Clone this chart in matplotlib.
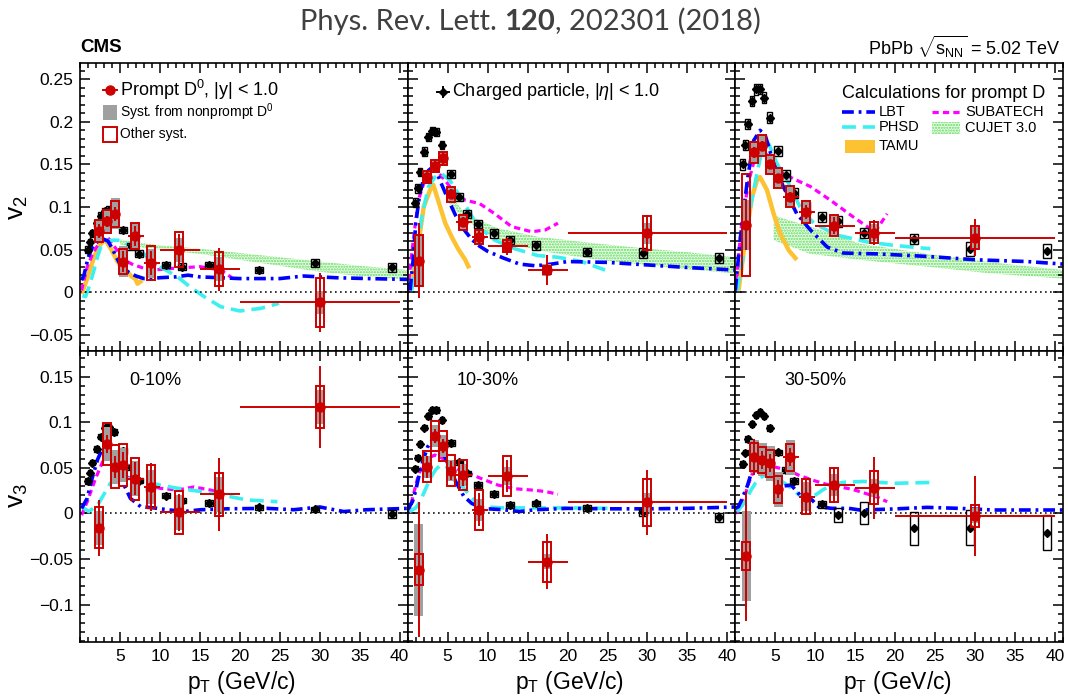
"""Prompt D0 and charged-particle v2 / v3 versus pT in PbPb, three centrality classes."""

import matplotlib

matplotlib.use("Agg")
import matplotlib.pyplot as plt
import numpy as np
from matplotlib.lines import Line2D
from matplotlib.patches import Rectangle
from matplotlib.ticker import FixedLocator, MultipleLocator

W, H = 1068, 699

# ---------------- prompt D0 ----------------
d0_pt = [1.4, 2.4, 3.4, 4.4, 5.4, 6.9, 8.9, 12.4, 17.4, 30.0]
d0_lo = [1, 2, 3, 4, 5, 6, 8, 10, 15, 20]
d0_hi = [2, 3, 4, 5, 6, 8, 10, 15, 20, 40]
nan = np.nan

d0_v2_010 = [nan, 0.072, 0.083, 0.092, 0.036, 0.066, 0.034, 0.050, 0.027, -0.012]
d0_v2_010_stat = [nan, 0.008, 0.007, 0.008, 0.012, 0.012, 0.014, 0.018, 0.025, 0.035]
d0_v2_010_sys = [nan, 0.013, 0.014, 0.015, 0.015, 0.015, 0.020, 0.021, 0.020, 0.029]
d0_v2_010_np = [nan, 0.014, 0.014, 0.018, 0.018, 0.015, 0.017, 0.014, 0.014, 0.014]

d0_v2_1030 = [0.037, 0.135, 0.148, 0.157, 0.115, 0.082, 0.065, 0.054, 0.026, 0.069]
d0_v2_1030_stat = [0.044, 0.008, 0.006, 0.006, 0.006, 0.006, 0.008, 0.010, 0.018, 0.022]
d0_v2_1030_sys = [0.030, 0.007, 0.007, 0.008, 0.009, 0.009, 0.008, 0.007, 0.005, 0.020]
d0_v2_1030_np = [0.031, 0.008, 0.008, 0.008, 0.009, 0.009, 0.009, 0.008, 0.007, 0.012]

d0_v2_3050 = [0.079, 0.164, 0.172, 0.150, 0.134, 0.112, 0.094, 0.078, 0.070, 0.064]
d0_v2_3050_stat = [0.030, 0.006, 0.005, 0.005, 0.005, 0.006, 0.008, 0.010, 0.015, 0.022]
d0_v2_3050_sys = [0.060, 0.012, 0.012, 0.0115, 0.0115, 0.0125, 0.0125, 0.0125, 0.0125, 0.0135]
d0_v2_3050_np = [0.029, 0.012, 0.012, 0.012, 0.012, 0.012, 0.012, 0.012, 0.010, 0.012]

d0_v3_010 = [nan, -0.016, 0.076, 0.051, 0.053, 0.038, 0.029, 0.001, 0.021, 0.1165]
d0_v3_010_stat = [nan, 0.031, 0.010, 0.012, 0.014, 0.018, 0.026, 0.020, 0.040, 0.045]
d0_v3_010_sys = [nan, 0.0225, 0.023, 0.0235, 0.0235, 0.023, 0.0235, 0.0235, 0.0235, 0.023]
d0_v3_010_np = [nan, 0.019, 0.019, 0.019, 0.019, 0.019, 0.019, 0.019, 0.019, 0.019]

d0_v3_1030 = [-0.062, 0.051, 0.085, 0.074, 0.047, 0.042, 0.004, 0.041, -0.053, 0.012]
d0_v3_1030_stat = [0.074, 0.012, 0.008, 0.008, 0.010, 0.012, 0.018, 0.018, 0.030, 0.036]
d0_v3_1030_sys = [0.017, 0.017, 0.0165, 0.0165, 0.0165, 0.016, 0.022, 0.0215, 0.022, 0.0255]
d0_v3_1030_np = [0.050, 0.012, 0.012, 0.012, 0.012, 0.012, 0.012, 0.010, 0.008, 0.010]

d0_v3_3050 = [-0.0466, 0.062, 0.0586, 0.055, 0.0264, 0.0615, 0.0183, 0.031, 0.028, -0.0026]
d0_v3_3050_stat = [0.071, 0.020, 0.010, 0.010, 0.010, 0.010, 0.018, 0.020, 0.034, 0.044]
d0_v3_3050_sys = [0.015, 0.015, 0.0145, 0.015, 0.015, 0.015, 0.019, 0.019, 0.018, 0.012]
d0_v3_3050_np = [0.049, 0.018, 0.018, 0.019, 0.019, 0.019, 0.016, 0.012, 0.010, 0.008]

# ---------------- charged particles ----------------
ch_pt = [0.95, 1.25, 1.55, 2.1, 2.6, 3.1, 3.6, 4.3, 5.4, 6.4, 7.4, 8.8, 10.8, 12.8, 16.1, 22.4, 29.4, 39.0]

ch_v2_010 = [0.050, 0.059, 0.069, 0.081, 0.090, 0.095, 0.097, 0.094, 0.073, 0.054, 0.045, 0.039,
             0.032, 0.030, 0.032, 0.026, 0.034, 0.029]
ch_v2_1030 = [0.105, 0.122, 0.141, 0.165, 0.182, 0.189, 0.188, 0.173, 0.139, 0.112, 0.092, 0.080,
              0.069, 0.061, 0.055, 0.047, 0.046, 0.040]
ch_v2_3050 = [0.150, 0.1725, 0.197, 0.2245, 0.238, 0.2385, 0.2285, 0.205, 0.1655, 0.137, 0.116, 0.100,
              0.088, 0.083, 0.0696, 0.062, 0.051, 0.0485]
ch_v3_010 = [0.0355, 0.0447, 0.0557, 0.0707, 0.084, 0.094, 0.095, 0.089, 0.0685, 0.0505, 0.036, 0.027,
             0.0194, 0.0139, 0.0114, 0.0066, 0.0044, -0.0007]
ch_v3_1030 = [0.049, 0.061, 0.076, 0.094, 0.107, 0.1135, 0.1135, 0.1025, 0.077, 0.056, 0.044, 0.031,
              0.021, 0.009, 0.011, 0.006, 0.001, -0.0044]
ch_v3_3050 = [0.054, 0.0666, 0.0813, 0.098, 0.108, 0.111, 0.107, 0.0934, 0.067, 0.0476, 0.0355, 0.0256,
              0.0099, -0.0018, 0.0, -0.0165, -0.0158, -0.021]

ch_v2_010_sys = [0.004, 0.004, 0.004, 0.004, 0.004, 0.004, 0.004, 0.004, 0.004, 0.004, 0.004, 0.004,
                 0.004, 0.004, 0.004, 0.004, 0.005, 0.005]
ch_v2_1030_sys = [0.005, 0.005, 0.005, 0.005, 0.005, 0.005, 0.005, 0.005, 0.005, 0.005, 0.005, 0.005,
                  0.005, 0.005, 0.005, 0.005, 0.006, 0.006]
ch_v2_3050_sys = [0.006, 0.006, 0.006, 0.006, 0.006, 0.006, 0.006, 0.006, 0.006, 0.006, 0.006, 0.006,
                  0.006, 0.006, 0.006, 0.006, 0.008, 0.008]
ch_v3_010_sys = [0.003, 0.003, 0.003, 0.003, 0.003, 0.003, 0.003, 0.003, 0.003, 0.003, 0.003, 0.003,
                 0.003, 0.003, 0.003, 0.003, 0.003, 0.004]
ch_v3_1030_sys = [0.003, 0.003, 0.003, 0.003, 0.003, 0.003, 0.003, 0.003, 0.003, 0.003, 0.003, 0.003,
                  0.003, 0.003, 0.003, 0.003, 0.004, 0.005]
ch_v3_3050_sys = [0.003, 0.003, 0.003, 0.003, 0.003, 0.003, 0.003, 0.003, 0.003, 0.003, 0.003, 0.004,
                  0.004, 0.008, 0.012, 0.018, 0.019, 0.019]

# ---------------- model calculations ----------------
lbt_v2_010_pt = [0.2, 0.5, 1.0, 1.5, 2.0, 2.5, 3.0, 3.5, 4.0, 4.5, 5.0, 6.0, 7.0, 8.0, 9.0, 10.0, 12.0,
                 13.5, 15.0, 20.0, 25.0, 28.0, 32.0, 36.0, 41.0]
lbt_v2_010 = [0.014, 0.020, 0.040, 0.052, 0.058, 0.061, 0.062, 0.060, 0.052, 0.042, 0.033, 0.024, 0.019,
              0.016, 0.016, 0.017, 0.018, 0.020, 0.018, 0.016, 0.016, 0.019, 0.017, 0.016, 0.015]
phsd_v2_010_pt = [0.3, 0.7, 1.2, 1.75, 2.2, 2.6, 3.0, 3.4, 4.0, 5.1, 6.5, 8.0, 10.0, 12.2, 13.8, 15.5,
                  17.6, 20.0, 22.6, 24.9]
phsd_v2_010 = [-0.004, -0.005, 0.008, 0.026, 0.042, 0.053, 0.058, 0.060, 0.061, 0.061, 0.053, 0.045,
               0.030, 0.018, 0.006, -0.005, -0.017, -0.022, -0.019, -0.013]
sub_v2_010_pt = [0.2, 0.9, 1.5, 2.0, 2.5, 3.0, 3.4, 4.0, 4.5, 5.5, 6.5, 8.0, 9.0, 11.75, 15.0, 17.6, 19.0]
sub_v2_010 = [0.002, 0.030, 0.043, 0.052, 0.058, 0.062, 0.065, 0.058, 0.051, 0.038, 0.033, 0.028, 0.026,
              0.028, 0.030, 0.026, 0.017]
tamu_v2_010_pt = [0.2, 0.6, 1.1, 1.75, 2.3, 2.8, 3.2, 3.8, 4.3, 4.7, 5.1, 5.5, 6.1, 6.5, 6.9, 7.2, 7.5, 7.8]
tamu_v2_010 = [-0.002, 0.008, 0.022, 0.041, 0.053, 0.059, 0.061, 0.052, 0.043, 0.036, 0.030, 0.026,
               0.022, 0.018, 0.016, 0.010, 0.012, 0.014]
cujet_v2_010_pt = [5.0, 7.5, 10.0, 15.0, 20.0, 25.0, 30.0, 35.0, 41.0]
cujet_v2_010_hi = [0.062, 0.058, 0.055, 0.051, 0.046, 0.041, 0.036, 0.031, 0.026]
cujet_v2_010_lo = [0.056, 0.053, 0.050, 0.045, 0.038, 0.031, 0.024, 0.019, 0.015]

lbt_v2_1030_pt = [0.3, 0.7, 1.0, 1.5, 2.0, 2.5, 3.0, 3.5, 4.0, 5.0, 6.0, 7.0, 8.0, 9.0, 10.0, 12.0, 14.0,
                  16.0, 18.0, 20.0, 25.0, 30.0, 35.0, 41.0]
lbt_v2_1030 = [0.002, 0.040, 0.080, 0.115, 0.133, 0.142, 0.146, 0.144, 0.132, 0.110, 0.090, 0.074, 0.062,
               0.054, 0.048, 0.040, 0.033, 0.031, 0.033, 0.036, 0.035, 0.032, 0.029, 0.026]
phsd_v2_1030_pt = [0.5, 1.1, 1.75, 2.6, 3.4, 4.25, 5.3, 6.3, 7.6, 8.8, 10.9, 13.4, 16.3, 18.8, 21.75, 24.7]
phsd_v2_1030 = [0.002, 0.041, 0.088, 0.124, 0.135, 0.139, 0.131, 0.116, 0.096, 0.077, 0.061, 0.051,
                0.043, 0.041, 0.036, 0.026]
sub_v2_1030_pt = [0.0, 0.7, 1.33, 2.4, 3.4, 4.7, 5.9, 7.2, 9.0, 10.9, 13.0, 15.5, 17.2, 18.8]
sub_v2_1030 = [0.002, 0.061, 0.108, 0.139, 0.145, 0.131, 0.116, 0.108, 0.104, 0.092, 0.077, 0.071,
               0.073, 0.081]
tamu_v2_1030_pt = [0.3, 1.1, 2.0, 2.8, 3.2, 3.8, 4.7, 5.5, 6.3, 7.2, 7.7]
tamu_v2_1030 = [0.002, 0.041, 0.100, 0.120, 0.126, 0.108, 0.081, 0.065, 0.051, 0.038, 0.028]
cujet_v2_1030_pt = [5.0, 7.2, 11.3, 16.3, 23.8, 30.0, 35.0, 41.0]
cujet_v2_1030_hi = [0.118, 0.092, 0.075, 0.065, 0.057, 0.051, 0.047, 0.041]
cujet_v2_1030_lo = [0.106, 0.085, 0.061, 0.049, 0.038, 0.032, 0.027, 0.022]

lbt_v2_3050_pt = [0.0, 0.6, 1.5, 2.3, 3.1, 3.75, 4.8, 6.0, 7.7, 9.4, 11.5, 13.5, 17.7, 24.0, 30.2, 36.5, 41.0]
lbt_v2_3050 = [0.002, 0.061, 0.131, 0.178, 0.190, 0.184, 0.151, 0.124, 0.092, 0.073, 0.053, 0.046,
               0.045, 0.042, 0.038, 0.036, 0.033]
phsd_v2_3050_pt = [0.2, 1.0, 1.9, 2.7, 3.3, 4.2, 5.2, 6.5, 8.1, 9.8, 12.7, 16.5, 19.8, 24.4]
phsd_v2_3050 = [0.002, 0.041, 0.100, 0.139, 0.165, 0.174, 0.151, 0.131, 0.100, 0.081, 0.067, 0.059,
                0.055, 0.051]
sub_v2_3050_pt = [0.0, 0.8, 1.7, 2.5, 3.3, 4.2, 5.2, 7.3, 9.4, 11.9, 14.8, 16.5, 17.5, 19.0]
sub_v2_3050 = [0.002, 0.081, 0.131, 0.159, 0.171, 0.157, 0.143, 0.133, 0.124, 0.108, 0.088, 0.077,
               0.071, 0.092]
tamu_v2_3050_pt = [0.4, 1.25, 2.1, 2.7, 3.1, 3.96, 4.8, 5.6, 6.7, 7.7]
tamu_v2_3050 = [0.002, 0.061, 0.112, 0.131, 0.135, 0.120, 0.092, 0.069, 0.049, 0.038]
cujet_v2_3050_pt = [4.8, 9.4, 15.6, 24.0, 32.0, 41.0]
cujet_v2_3050_hi = [0.090, 0.077, 0.057, 0.045, 0.035, 0.026]
cujet_v2_3050_lo = [0.061, 0.045, 0.038, 0.030, 0.022, 0.016]

lbt_v3_010_pt = [0.2, 0.9, 1.5, 2.2, 2.8, 3.4, 4.25, 5.3, 6.3, 7.6, 9.25, 10.9, 13.0, 15.1, 18.4, 23.4,
                 26.75, 30.0, 33.0, 35.9, 41.0]
lbt_v3_010 = [0.0055, 0.0165, 0.038, 0.059, 0.071, 0.075, 0.059, 0.035, 0.0165, 0.0073, 0.006, 0.004,
              0.002, 0.004, 0.005, 0.0055, 0.004, 0.007, 0.002, 0.004, 0.0055]
phsd_v3_010_pt = [0.2, 1.1, 2.2, 2.8, 3.8, 4.9, 6.3, 8.0, 10.0, 12.2, 15.1, 18.4, 20.9, 24.7]
phsd_v3_010 = [0.0073, 0.002, 0.009, 0.018, 0.033, 0.038, 0.038, 0.035, 0.031, 0.0275, 0.024, 0.019,
               0.0147, 0.0128]
sub_v3_010_pt = [0.2, 0.9, 1.96, 3.0, 3.6, 4.5, 5.9, 8.0, 10.0, 12.2, 14.25, 16.3, 18.0]
sub_v3_010 = [-0.002, 0.0128, 0.0385, 0.060, 0.062, 0.053, 0.040, 0.033, 0.0275, 0.0256, 0.029, 0.0256,
              0.022]

lbt_v3_1030_pt = [0.0, 0.6, 1.0, 1.5, 2.0, 2.5, 3.0, 3.5, 4.0, 4.5, 5.0, 5.5, 6.0, 7.0, 8.0, 9.0, 10.0,
                  12.0, 14.0, 16.0, 20.0, 25.0, 30.0, 35.0, 41.0]
lbt_v3_1030 = [0.004, 0.013, 0.025, 0.045, 0.060, 0.073, 0.080, 0.081, 0.075, 0.065, 0.055, 0.045,
               0.035, 0.019, 0.011, 0.007, 0.005, 0.004, 0.002, 0.004, 0.0055, 0.005, 0.005, 0.0055, 0.007]
phsd_v3_1030_pt = [0.2, 1.0, 1.5, 2.0, 2.5, 3.0, 3.5, 4.0, 4.5, 5.0, 6.0, 7.0, 8.0, 9.0, 10.0, 12.0,
                   15.0, 20.0, 25.0]
phsd_v3_1030 = [0.002, 0.006, 0.012, 0.022, 0.032, 0.041, 0.048, 0.052, 0.053, 0.050, 0.040, 0.028,
                0.017, 0.010, 0.007, 0.006, 0.006, 0.006, 0.0055]
sub_v3_1030_pt = [0.1, 0.7, 1.33, 2.2, 3.4, 4.7, 6.1, 7.6, 9.25, 11.3, 13.4, 15.5, 17.2, 18.8]
sub_v3_1030 = [0.0, 0.020, 0.042, 0.059, 0.064, 0.059, 0.049, 0.044, 0.038, 0.031, 0.027, 0.0256,
               0.024, 0.021]

lbt_v3_3050_pt = [0.0, 0.4, 0.8, 1.5, 2.1, 2.7, 3.4, 4.0, 4.8, 5.2, 6.0, 7.0, 8.1, 9.6, 10.4, 12.1,
                  14.2, 15.6, 19.8, 24.0, 28.0, 32.3, 41.0]
lbt_v3_3050 = [0.0055, 0.0073, 0.015, 0.030, 0.047, 0.057, 0.060, 0.055, 0.038, 0.031, 0.030, 0.031,
               0.020, 0.0147, 0.0073, 0.0055, 0.0055, 0.0037, 0.0048, 0.0066, 0.0055, 0.0037, 0.0037]
phsd_v3_3050_pt = [0.2, 1.0, 1.5, 2.0, 2.5, 3.0, 3.5, 4.0, 5.0, 6.0, 7.0, 8.0, 9.0, 10.0, 11.0, 12.0,
                   13.5, 16.0, 20.0, 25.0]
phsd_v3_3050 = [0.002, 0.010, 0.018, 0.026, 0.033, 0.038, 0.041, 0.042, 0.040, 0.034, 0.028, 0.020,
                0.016, 0.020, 0.026, 0.031, 0.034, 0.035, 0.033, 0.034]
sub_v3_3050_pt = [0.0, 0.42, 1.3, 1.67, 2.3, 2.7, 3.5, 4.4, 5.8, 6.7, 7.9, 9.6, 11.3, 12.9, 14.6, 15.6,
                  17.7, 19.0]
sub_v3_3050 = [0.0, 0.0037, 0.022, 0.033, 0.047, 0.053, 0.057, 0.052, 0.049, 0.047, 0.042, 0.0366,
               0.0321, 0.0293, 0.0264, 0.0238, 0.018, 0.0128]

centrality_labels = ["0-10%", "10-30%", "30-50%"]

# ---------------- styles ----------------
RED = "#cc0000"
NPGRAY = "#a0a0a0"
C_LBT, C_PHSD, C_SUB, C_TAMU = "#0000ff", "#3cf0f0", "#ff00ff", "#fcc232"
C_CUJET_FACE, C_CUJET_DOTS = "#eefcea", "#5cdc5c"
STY_LBT = dict(color=C_LBT, lw=2.6, dashes=(8.5, 3.5, 2.0, 3.5))
STY_PHSD = dict(color=C_PHSD, lw=2.6, dashes=(10, 5))
STY_SUB = dict(color=C_SUB, lw=2.3, dashes=(4.5, 3))
STY_TAMU = dict(color=C_TAMU, lw=3.2, solid_capstyle="butt")

plt.rcParams.update({
    "font.family": ["Liberation Sans", "DejaVu Sans"],
    "mathtext.fontset": "custom",
    "mathtext.rm": "Liberation Sans",
    "mathtext.it": "Liberation Sans:italic",
    "mathtext.bf": "Liberation Sans:bold",
    "lines.scale_dashes": False,
    "hatch.linewidth": 1.1,
    "hatch.color": C_CUJET_DOTS,
})


def fx(x):
    return x / W


def fy(y):
    return 1 - y / H


def draw_models(ax, lbt, phsd, sub, tamu=None, cujet=None):
    if cujet is not None:
        ax.fill_between(cujet[0], cujet[1], cujet[2], facecolor=C_CUJET_FACE,
                        edgecolor=C_CUJET_DOTS, hatch="......", linewidth=0, zorder=1)
    if tamu is not None:
        ax.plot(tamu[0], tamu[1], zorder=2, **STY_TAMU)
    ax.plot(sub[0], sub[1], zorder=2, **STY_SUB)
    ax.plot(phsd[0], phsd[1], zorder=2, **STY_PHSD)
    ax.plot(lbt[0], lbt[1], zorder=2, **STY_LBT)


def draw_charged(ax, vals, sys):
    for p, v, s in zip(ch_pt, vals, sys):
        w = 0.6 if p < 5 else 1.0
        ax.add_patch(Rectangle((p - w / 2, v - s), w, 2 * s, fill=False,
                               edgecolor="k", lw=1.0, zorder=3))
    ax.errorbar(ch_pt, vals, xerr=0.3, fmt="D", color="k", ms=3.8,
                elinewidth=1.4, capsize=0, zorder=4)


def draw_d0(ax, vals, stat, sys, npsys):
    vals = np.asarray(vals, float)
    ok = ~np.isnan(vals)
    pt = np.asarray(d0_pt)[ok]
    lo = np.asarray(d0_lo)[ok]
    hi = np.asarray(d0_hi)[ok]
    v = vals[ok]
    st = np.asarray(stat)[ok]
    sy = np.asarray(sys)[ok]
    ns = np.asarray(npsys)[ok]
    for p, y, s, n in zip(pt, v, sy, ns):
        ax.add_patch(Rectangle((p - 0.55, y - n), 1.1, 2 * n, facecolor=NPGRAY,
                               edgecolor="none", zorder=5))
        ax.add_patch(Rectangle((p - 0.5, y - s), 1.0, 2 * s, fill=False,
                               edgecolor=RED, lw=1.4, zorder=6))
    ax.errorbar(pt, v, xerr=[pt - lo, hi - pt], yerr=st, fmt="o", color=RED,
                ms=6.5, elinewidth=1.4, capsize=0, zorder=7)


def style_axes(ax, ylim, yticks, ylabels, first):
    ax.set_xlim(0, 41)
    ax.set_ylim(*ylim)
    ax.axhline(0, color="k", lw=1.1, ls=(0, (1.2, 2.4)), zorder=2.5)
    ax.xaxis.set_major_locator(FixedLocator([5, 10, 15, 20, 25, 30, 35, 40]))
    ax.xaxis.set_minor_locator(MultipleLocator(1))
    ax.set_xticklabels(["5", "10", "15", "20", "25", "30", "35", "40"])
    ax.yaxis.set_major_locator(FixedLocator(yticks))
    ax.yaxis.set_minor_locator(MultipleLocator(0.01))
    if first:
        ax.set_yticklabels(ylabels)
    else:
        ax.set_yticklabels([])
    ax.tick_params(which="both", direction="in", top=True, right=True,
                   labelsize=12.5, width=1.1)
    ax.tick_params(which="major", length=7.5, pad=5)
    ax.tick_params(which="minor", length=3.8)
    for sp in ax.spines.values():
        sp.set_linewidth(1.2)


fig = plt.figure(figsize=(W / 100, H / 100), dpi=100)

col_left = [80, 407.7, 735.3]
col_w = 327.7
top_row = (351, 288)
bot_row = (642, 291)

v2_ylim = (-0.069, 0.269)
v3_ylim = (-0.141, 0.178)
v2_ticks = [-0.05, 0, 0.05, 0.1, 0.15, 0.2, 0.25]
v2_labels = ["\u22120.05", "0", "0.05", "0.1", "0.15", "0.2", "0.25"]
v3_ticks = [-0.1, -0.05, 0, 0.05, 0.1, 0.15]
v3_labels = ["\u22120.1", "\u22120.05", "0", "0.05", "0.1", "0.15"]

v2_sets = [
    (d0_v2_010, d0_v2_010_stat, d0_v2_010_sys, d0_v2_010_np, ch_v2_010, ch_v2_010_sys,
     (lbt_v2_010_pt, lbt_v2_010), (phsd_v2_010_pt, phsd_v2_010), (sub_v2_010_pt, sub_v2_010),
     (tamu_v2_010_pt, tamu_v2_010), (cujet_v2_010_pt, cujet_v2_010_lo, cujet_v2_010_hi)),
    (d0_v2_1030, d0_v2_1030_stat, d0_v2_1030_sys, d0_v2_1030_np, ch_v2_1030, ch_v2_1030_sys,
     (lbt_v2_1030_pt, lbt_v2_1030), (phsd_v2_1030_pt, phsd_v2_1030), (sub_v2_1030_pt, sub_v2_1030),
     (tamu_v2_1030_pt, tamu_v2_1030), (cujet_v2_1030_pt, cujet_v2_1030_lo, cujet_v2_1030_hi)),
    (d0_v2_3050, d0_v2_3050_stat, d0_v2_3050_sys, d0_v2_3050_np, ch_v2_3050, ch_v2_3050_sys,
     (lbt_v2_3050_pt, lbt_v2_3050), (phsd_v2_3050_pt, phsd_v2_3050), (sub_v2_3050_pt, sub_v2_3050),
     (tamu_v2_3050_pt, tamu_v2_3050), (cujet_v2_3050_pt, cujet_v2_3050_lo, cujet_v2_3050_hi)),
]
v3_sets = [
    (d0_v3_010, d0_v3_010_stat, d0_v3_010_sys, d0_v3_010_np, ch_v3_010, ch_v3_010_sys,
     (lbt_v3_010_pt, lbt_v3_010), (phsd_v3_010_pt, phsd_v3_010), (sub_v3_010_pt, sub_v3_010)),
    (d0_v3_1030, d0_v3_1030_stat, d0_v3_1030_sys, d0_v3_1030_np, ch_v3_1030, ch_v3_1030_sys,
     (lbt_v3_1030_pt, lbt_v3_1030), (phsd_v3_1030_pt, phsd_v3_1030), (sub_v3_1030_pt, sub_v3_1030)),
    (d0_v3_3050, d0_v3_3050_stat, d0_v3_3050_sys, d0_v3_3050_np, ch_v3_3050, ch_v3_3050_sys,
     (lbt_v3_3050_pt, lbt_v3_3050), (phsd_v3_3050_pt, phsd_v3_3050), (sub_v3_3050_pt, sub_v3_3050)),
]

for i in range(3):
    # v2 row
    ax = fig.add_axes([fx(col_left[i]), fy(top_row[0]), col_w / W, top_row[1] / H])
    d, st, sy, npv, ch, chs, lbt, phsd, sub, tamu, cujet = v2_sets[i]
    draw_models(ax, lbt, phsd, sub, tamu, cujet)
    draw_charged(ax, ch, chs)
    draw_d0(ax, d, st, sy, npv)
    style_axes(ax, v2_ylim, v2_ticks, v2_labels, i == 0)
    ax.tick_params(labelbottom=False)

    # v3 row
    ax = fig.add_axes([fx(col_left[i]), fy(bot_row[0]), col_w / W, bot_row[1] / H])
    d, st, sy, npv, ch, chs, lbt, phsd, sub = v3_sets[i]
    draw_models(ax, lbt, phsd, sub)
    draw_charged(ax, ch, chs)
    draw_d0(ax, d, st, sy, npv)
    style_axes(ax, v3_ylim, v3_ticks, v3_labels, i == 0)
    ax.text(0.15, 0.9, centrality_labels[i], transform=ax.transAxes, fontsize=13,
            va="center", ha="left")

    fig.text(fx(col_left[i] + col_w / 2 - 2), fy(683), r"p$_\mathregular{T}$ (GeV/c)",
             fontsize=16.5, ha="center", va="center")

# axis titles
fig.text(fx(18), fy(208), r"v$_\mathregular{2}$", fontsize=19, rotation=90, ha="center", va="center")
fig.text(fx(18), fy(496), r"v$_\mathregular{3}$", fontsize=19, rotation=90, ha="center", va="center")

# header
fig.text(fx(80), fy(47), "CMS", fontsize=13.5, fontweight="bold", ha="left", va="center")
fig.text(fx(1061), fy(47), r"PbPb $\sqrt{\mathregular{s}_\mathregular{NN}}$ = 5.02 TeV", fontsize=13,
         ha="right", va="center")

# journal reference, with the volume in bold
TITLE_C = "#404040"
t1 = fig.text(fx(300), fy(22), "Phys. Rev. Lett. ", fontsize=21, family="Lato",
              color=TITLE_C, ha="left", va="center")
a2 = fig.add_artist(plt.Annotation("120", xy=(1, 0), xycoords=t1, va="bottom", ha="left",
                                   fontsize=21, family="Lato", fontweight="bold", color=TITLE_C))
fig.add_artist(plt.Annotation(", 202301 (2018)", xy=(1, 0), xycoords=a2, va="bottom",
                              ha="left", fontsize=21, family="Lato", color=TITLE_C))

# legend: prompt D0
tf = fig.transFigure
fig.add_artist(Line2D([fx(103), fx(117)], [fy(90), fy(90)], color=RED, lw=1.4, transform=tf))
fig.add_artist(Line2D([fx(110)], [fy(90)], color=RED, marker="o", ms=6.5, transform=tf))
fig.text(fx(120), fy(90), r"Prompt D$^\mathregular{0}$, |y| < 1.0", fontsize=13, va="center")
fig.add_artist(Rectangle((fx(103), fy(120)), 14 / W, 15 / H, facecolor=NPGRAY,
                         edgecolor="none", transform=tf))
fig.text(fx(120), fy(112), r"Syst. from nonprompt D$^\mathregular{0}$", fontsize=10, va="center")
fig.add_artist(Rectangle((fx(103), fy(142)), 14 / W, 15 / H, fill=False, edgecolor=RED,
                         lw=1.4, transform=tf))
fig.text(fx(120), fy(134), "Other syst.", fontsize=10, va="center")

# legend: charged particles
fig.add_artist(Line2D([fx(437), fx(449)], [fy(92), fy(92)], color="k", lw=1.4, transform=tf))
fig.add_artist(Line2D([fx(443), fx(443)], [fy(87), fy(97)], color="k", lw=1.4, transform=tf))
fig.add_artist(Line2D([fx(443)], [fy(92)], color="k", marker="D", ms=3.8, transform=tf))
fig.text(fx(452), fy(92), r"Charged particle, |$\eta$| < 1.0", fontsize=13, va="center")

# legend: model calculations
fig.text(fx(842), fy(93), "Calculations for prompt D", fontsize=13, va="center")
fig.add_artist(Line2D([fx(842), fx(875)], [fy(112), fy(112)], transform=tf, **STY_LBT))
fig.text(fx(879), fy(112), "LBT", fontsize=10.5, va="center")
fig.add_artist(Line2D([fx(842), fx(875)], [fy(127), fy(127)], transform=tf, **STY_PHSD))
fig.text(fx(879), fy(127), "PHSD", fontsize=10.5, va="center")
fig.add_artist(Rectangle((fx(845), fy(153)), 30 / W, 13 / H, facecolor=C_TAMU,
                         edgecolor="none", transform=tf))
fig.text(fx(879), fy(146), "TAMU", fontsize=10.5, va="center")
fig.add_artist(Line2D([fx(932), fx(960)], [fy(112), fy(112)], transform=tf, **STY_SUB))
fig.text(fx(965), fy(112), "SUBATECH", fontsize=10.5, va="center")
fig.add_artist(Rectangle((fx(932), fy(134)), 28 / W, 12 / H, facecolor=C_CUJET_FACE,
                         edgecolor=C_CUJET_DOTS, hatch="......", lw=0, transform=tf))
fig.text(fx(965), fy(128), "CUJET 3.0", fontsize=10.5, va="center")

fig.savefig("out.png", dpi=100)
